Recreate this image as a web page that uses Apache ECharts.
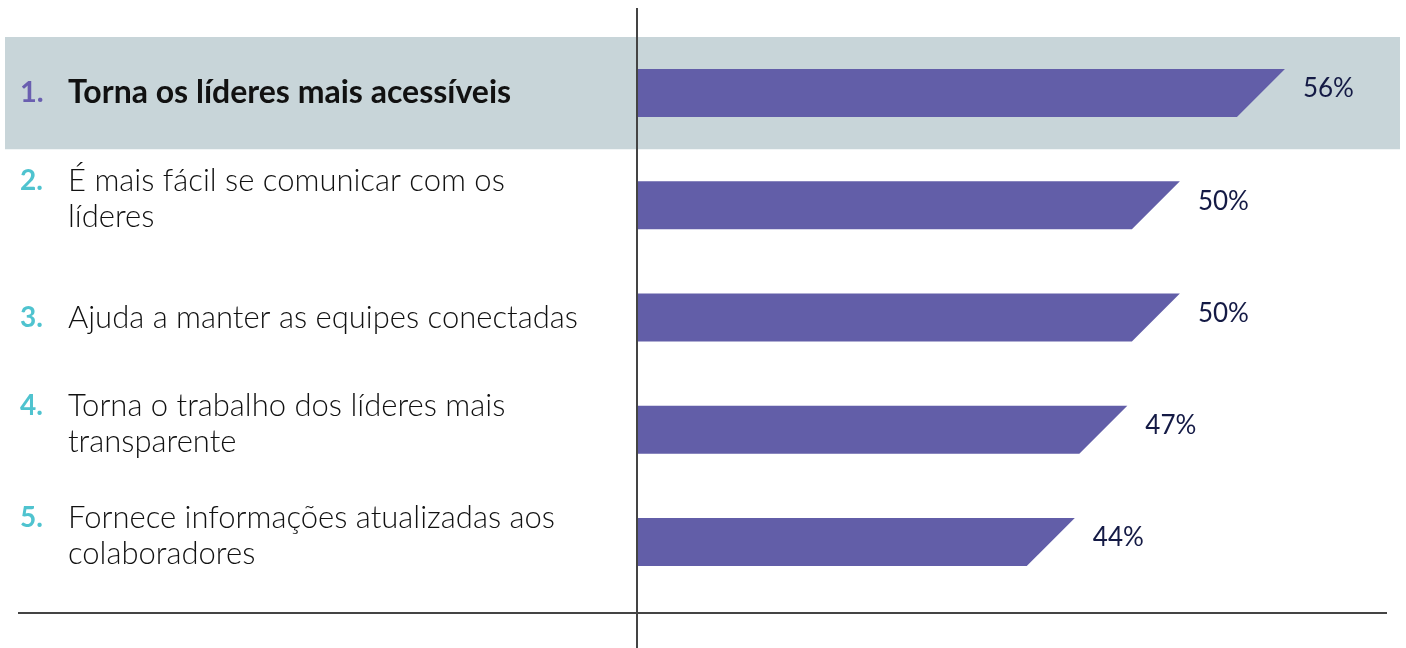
<!DOCTYPE html>
<html>
<head>
<meta charset="utf-8">
<script src="https://cdn.jsdelivr.net/npm/echarts@6/dist/echarts.min.js"></script>
<style>
  html, body { margin: 0; padding: 0; background: #fff; }
  #chart { width: 1406px; height: 648px; }
</style>
</head>
<body>
<div id="chart"></div>
<script>
// data
const categories = [
  'Torna os líderes mais acessíveis',
  'É mais fácil se comunicar com os\nlíderes',
  'Ajuda a manter as equipes conectadas',
  'Torna o trabalho dos líderes mais\ntransparente',
  'Fornece informações atualizadas aos\ncolaboradores'
]
const values = [56, 50, 50, 47, 44]
const highlighted = [true, false, false, false, false]

const xMin = 19
const xMax = 60
const barColor = '#625ea8'
const bandColor = '#c8d5d9'
const font = 'Lato, "Noto Sans", sans-serif'

const chart = echarts.init(document.getElementById('chart'), null, { renderer: 'canvas' })

const seriesData = values.map((v, i) => [v, i])

const labelFormatter = (value, index) => {
  const lines = value.split('\n')
  const hi = highlighted[index]
  const num = hi ? 'numHi' : 'num'
  const txt = hi ? 'txtHi' : 'txt'
  let out = lines.map((line, k) => (k === 0 ? `{${num}|${index + 1}.}` : '{pad| }') + `{${txt}|${line}}`).join('\n')
  // two-line labels sit a little above the bar centre
  if (lines.length > 1) out += '\n{gap| }'
  return out
}

const renderBand = (params, api) => {
  const i = api.value(1)
  if (!highlighted[i]) return null
  const c = api.coord([xMin, i])
  const bw = api.size([0, 1])[1]
  return {
    type: 'rect',
    shape: { x: 5, y: c[1] - bw / 2, width: 1395, height: bw },
    style: { fill: bandColor }
  }
}

const renderBar = (params, api) => {
  const v = api.value(0)
  const i = api.value(1)
  const start = api.coord([xMin, i])
  const end = api.coord([v, i])
  const h = api.size([0, 1])[1] * 0.428
  const yt = end[1] - h / 2
  const yb = end[1] + h / 2
  const x0 = start[0] + 1
  return {
    type: 'group',
    children: [
      {
        type: 'polygon',
        shape: { points: [[x0, yt], [end[0], yt], [end[0] - h, yb], [x0, yb]] },
        style: { fill: barColor }
      },
      {
        type: 'text',
        x: end[0] + 18,
        y: end[1] - 4,
        style: {
          text: v + '%',
          fill: '#141a45',
          fontSize: 26,
          fontFamily: font,
          align: 'left',
          verticalAlign: 'middle'
        }
      }
    ]
  }
}

chart.setOption({
  backgroundColor: '#fff',
  animation: false,
  grid: { left: 637, right: 51, top: 37, height: 561, containLabel: false, outerBoundsMode: 'none' },
  xAxis: { type: 'value', min: xMin, max: xMax, show: false },
  yAxis: {
    type: 'category',
    inverse: true,
    data: categories,
    z: 5,
    axisLine: { show: false },
    axisTick: { show: false },
    splitLine: { show: false },
    axisLabel: {
      align: 'left',
      margin: 617,
      hideOverlap: false,
      formatter: labelFormatter,
      rich: {
        num: { width: 48, fontSize: 28, fontWeight: 'bold', color: '#4fc3cf', fontFamily: font, lineHeight: 36 },
        numHi: { width: 48, fontSize: 29, fontWeight: 'bold', color: '#6a5fb0', fontFamily: font, lineHeight: 36 },
        pad: { width: 48, fontSize: 28, lineHeight: 36 },
        gap: { fontSize: 2, lineHeight: 12 },
        txt: { fontSize: 31, fontWeight: 300, color: '#111', fontFamily: font, lineHeight: 36 },
        txtHi: { fontSize: 32, fontWeight: 'bold', color: '#111', fontFamily: font, lineHeight: 36 }
      }
    }
  },
  graphic: [
    { type: 'line', z: 10, shape: { x1: 637, y1: 8, x2: 637, y2: 648 }, style: { stroke: '#444', lineWidth: 2 } },
    { type: 'line', z: 10, shape: { x1: 18, y1: 613, x2: 1387, y2: 613 }, style: { stroke: '#444', lineWidth: 2 } }
  ],
  series: [
    { type: 'custom', z: 1, silent: true, data: seriesData, encode: { x: 0, y: 1 }, renderItem: renderBand },
    { type: 'custom', z: 3, data: seriesData, encode: { x: 0, y: 1 }, renderItem: renderBar }
  ]
})

window.addEventListener('resize', () => chart.resize())
</script>
</body>
</html>
